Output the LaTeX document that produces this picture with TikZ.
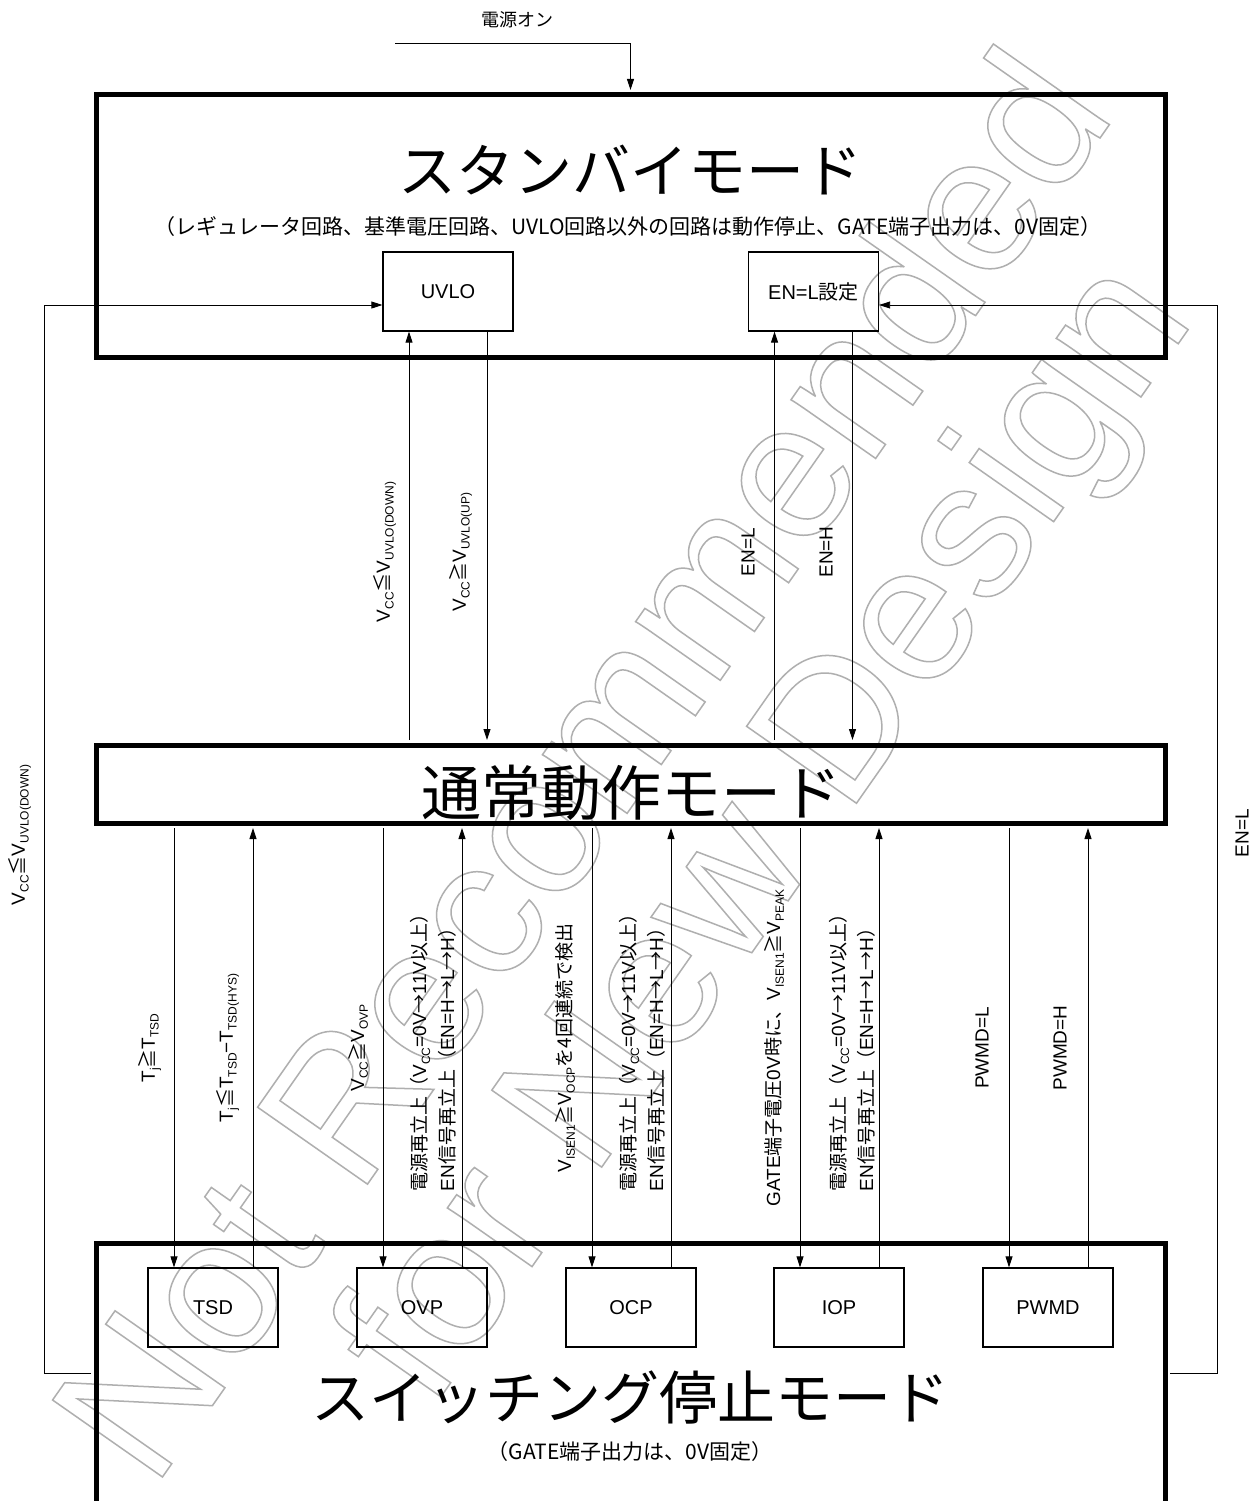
\documentclass[tikz,border=0pt]{standalone}
\usepackage{fontspec}
\setmainfont{Liberation Sans}
\newfontfamily\jp{Noto Sans CJK JP}
\usetikzlibrary{arrows.meta}
\newcommand\sbs[1]{\raisebox{-0.2em}{\fontsize{12}{12}\selectfont #1}}
\newcommand\jge{{\jp ≧}}
\newcommand\jle{{\jp ≦}}
\newcommand\jar{{\jp →}}
\newcommand\outl[1]{\special{pdf:literal direct 1 Tr 1.5 w}#1\special{pdf:literal direct 0 Tr}}
\definecolor{wmgray}{RGB}{175,175,175}
\begin{document}
\begin{tikzpicture}[x=1pt,y=-1pt,
  arr/.style={line width=0.9pt,-{Triangle[length=11pt,width=7pt]}},
  bigbox/.style={draw,line width=5pt,inner sep=0pt},
  smallbox/.style={draw,line width=1.3pt,minimum width=130pt,minimum height=79pt,inner sep=0pt,font=\fontsize{20}{24}\selectfont},
  lbl/.style={rotate=90,font=\fontsize{19}{28}\selectfont,inner sep=0pt,align=left},
  bigtitle/.style={font=\jp\fontsize{58}{62}\selectfont,inner sep=0pt},
  subtitle/.style={font=\jp\fontsize{21}{24}\selectfont,inner sep=0pt},
  wm/.style={rotate=55,font=\fontsize{195}{205}\selectfont,inner sep=0pt,text=wmgray},
]
\useasboundingbox (0,0) rectangle (1258,1501);
\fill[white] (0,0) rectangle (1258,1501);

% watermark
\node[wm] (wm1) at (578,762) {\outl{Not Recommended}};
\node[wm] (wm2) at (772,836) {\outl{for New Design}};

% standby
\node[bigbox,minimum width=1069pt,minimum height=262pt] (standby) at (630.5,226) {};
\node[bigtitle] (stitle) at (630,170) {スタンバイモード};
\node[subtitle] (ssub) at (628,227) {（レギュレータ回路、基準電圧回路、UVLO回路以外の回路は動作停止、GATE端子出力は、0V固定）};
\node[smallbox] (uvlo) at (448,291.5) {UVLO};
\node[smallbox] (enl) at (813.5,291.5) {EN=L{\jp 設定}};

% normal
\node[bigbox,minimum width=1069pt,minimum height=78pt] (normal) at (630.5,784) {};
\node[bigtitle,font=\jp\fontsize{60}{62}\selectfont] (ntitle) at (631,793) {通常動作モード};

% switching stop
\node[bigbox,minimum width=1069pt,minimum height=330pt] (switch) at (630.5,1408) {};
\node[bigtitle] (wtitle) at (630,1397) {スイッチング停止モード};
\node[subtitle] (wsub) at (630,1452) {（GATE端子出力は、0V固定）};
\node[smallbox] (tsd) at (213,1307.5) {TSD};
\node[smallbox] (ovp) at (422,1307.5) {OVP};
\node[smallbox] (ocp) at (631,1307.5) {OCP};
\node[smallbox] (iop) at (839,1307.5) {IOP};
\node[smallbox] (pwmd) at (1048,1307.5) {PWMD};

% power on
\coordinate (pon) at (395,43);
\node[font=\jp\fontsize{18}{20}\selectfont,inner sep=0pt] (ponl) at (517,20) {電源オン};
\draw[arr,shorten >=2.5pt] (pon) -| (standby.north);

% standby <-> normal
\draw[arr,shorten <=2.5pt] ([xshift=-39pt]uvlo.south |- normal.north) -- ([xshift=-39pt]uvlo.south);
\draw[arr,shorten >=2.5pt] ([xshift=39pt]uvlo.south) -- ([xshift=39pt]uvlo.south |- normal.north);
\draw[arr,shorten <=2.5pt] ([xshift=-39pt]enl.south |- normal.north) -- ([xshift=-39pt]enl.south);
\draw[arr,shorten >=2.5pt] ([xshift=39pt]enl.south) -- ([xshift=39pt]enl.south |- normal.north);

% normal <-> switching boxes
\foreach \b in {tsd,ovp,ocp,iop,pwmd}{
  \draw[arr,shorten <=2.5pt] ([xshift=-39pt]\b.north |- normal.south) -- ([xshift=-39pt]\b.north);
  \draw[arr,shorten >=2.5pt] ([xshift=40pt]\b.north) -- ([xshift=40pt]\b.north |- normal.south);
}

% side loops
\coordinate (lc) at (44,1373);
\coordinate (rc) at (1217,1373);
\draw[arr,shorten <=2.5pt] (lc -| switch.west) -- (lc) |- ([yshift=-13.5pt]uvlo.west);
\draw[arr,shorten <=2.5pt] (rc -| switch.east) -- (rc) |- ([yshift=-13.5pt]enl.east);

% labels (upper)
\node[lbl] (la) at (385,552) {V\sbs{CC}\jle V\sbs{UVLO(DOWN)}};
\node[lbl] (lb) at (461,552) {V\sbs{CC}\jge V\sbs{UVLO(UP)}};
\node[lbl] (lc2) at (748,552) {EN=L};
\node[lbl] (ld) at (826,552) {EN=H};
\node[lbl] (le) at (20,835) {V\sbs{CC}\jle V\sbs{UVLO(DOWN)}};
\node[lbl] (lf) at (1242,833) {EN=L};

% labels (lower)
\node[lbl] (m1) at (150,1048) {T\sbs{j}\jge T\sbs{TSD}};
\node[lbl] (m2) at (228,1048) {T\sbs{j}\jle T\sbs{TSD}−T\sbs{TSD(HYS)}};
\node[lbl] (m3) at (358,1048) {V\sbs{CC}\jge V\sbs{OVP}};
\node[lbl] (m4) at (433,1048) {{\jp 電源再立上（}V\sbs{CC}=0V\jar 11V{\jp 以上）}\\EN{\jp 信号再立上（}EN=H\jar L\jar H{\jp ）}};
\node[lbl] (m5) at (565,1048) {V\sbs{ISEN1}\jge V\sbs{OCP}{\jp を4回連続で検出}};
\node[lbl] (m6) at (642,1048) {{\jp 電源再立上（}V\sbs{CC}=0V\jar 11V{\jp 以上）}\\EN{\jp 信号再立上（}EN=H\jar L\jar H{\jp ）}};
\node[lbl] (m7) at (774,1048) {GATE{\jp 端子電圧}0V{\jp 時に、}V\sbs{ISEN1}\jge V\sbs{PEAK}};
\node[lbl] (m8) at (852,1048) {{\jp 電源再立上（}V\sbs{CC}=0V\jar 11V{\jp 以上）}\\EN{\jp 信号再立上（}EN=H\jar L\jar H{\jp ）}};
\node[lbl] (m9) at (982,1048) {PWMD=L};
\node[lbl] (m10) at (1060,1048) {PWMD=H};
\end{tikzpicture}
\end{document}
